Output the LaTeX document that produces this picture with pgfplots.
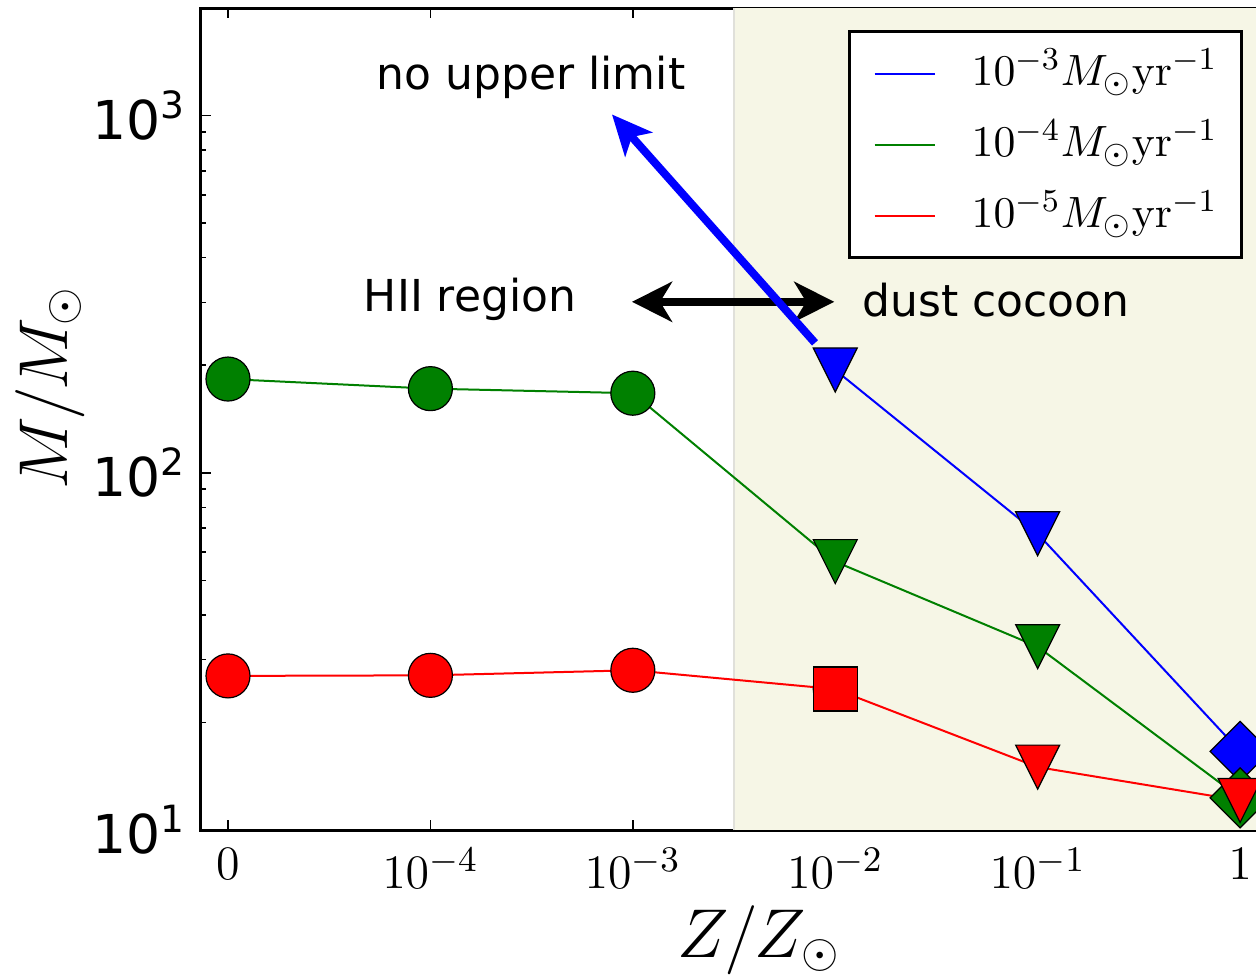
\documentclass[border=0pt]{standalone}
\usepackage[no-math]{fontspec}
\setmainfont{DejaVu Sans}
\usepackage{pgfplots}
\pgfplotsset{compat=1.18}
\usetikzlibrary{calc, arrows.meta}
\definecolor{mblue}{RGB}{0,0,255}
\definecolor{mgreen}{RGB}{0,128,0}
\definecolor{mred}{RGB}{255,0,0}
\definecolor{cocoon}{HTML}{F6F6E6}
\definecolor{cocoonedge}{HTML}{E0E0DA}

% matplotlib-like markers: 'v' and 'D'
\pgfdeclareplotmark{tridown}{%
  \pgfpathmoveto{\pgfqpoint{0pt}{-\pgfplotmarksize}}%
  \pgfpathlineto{\pgfqpoint{\pgfplotmarksize}{\pgfplotmarksize}}%
  \pgfpathlineto{\pgfqpoint{-\pgfplotmarksize}{\pgfplotmarksize}}%
  \pgfpathclose\pgfusepathqfillstroke}
\pgfdeclareplotmark{mdiamond}{%
  \pgfpathmoveto{\pgfqpoint{0pt}{\pgfplotmarksize}}%
  \pgfpathlineto{\pgfqpoint{\pgfplotmarksize}{0pt}}%
  \pgfpathlineto{\pgfqpoint{0pt}{-\pgfplotmarksize}}%
  \pgfpathlineto{\pgfqpoint{-\pgfplotmarksize}{0pt}}%
  \pgfpathclose\pgfusepathqfillstroke}

\begin{document}
\begin{tikzpicture}
\begin{axis}[
  name=ax,
  scale only axis, width=279pt, height=205.5pt,
  xmin=-0.1334, xmax=5.38,
  ymode=log, ymin=10, ymax=2000,
  axis line style={line width=0.75pt},
  major tick length=2.5pt, minor tick length=1.25pt,
  every tick/.style={black, line width=0.4pt},
  xtick={0,1,2,3,4,5},
  xticklabels={$0$,$10^{-4}$,$10^{-3}$,$10^{-2}$,$10^{-1}$,$1$},
  x tick label style={font=\fontsize{12.8}{14}\selectfont, yshift=-1pt},
  ytick={10,100,1000},
  yticklabels={10\textsuperscript{1},10\textsuperscript{2},10\textsuperscript{3}},
  minor ytick={20,30,40,50,60,70,80,90,200,300,400,500,600,700,800,900,2000},
  y tick label style={font=\fontsize{13.4}{15}\selectfont},
  xlabel={$Z/Z_{\odot}$},
  xlabel style={at={(axis description cs:0.5,-0.134)}, anchor=center, font=\fontsize{17.5}{20}\selectfont},
  ylabel={$M/M_{\odot}$},
  ylabel style={at={(axis description cs:-0.135,0.538)}, anchor=center, rotate=0, font=\fontsize{17.5}{20}\selectfont},
  legend style={at={(rel axis cs:0.9337,0.973)}, anchor=north east,
    draw=black, line width=0.75pt, fill=white,
    font=\fontsize{11}{13}\selectfont,
    inner xsep=6pt, inner ysep=4.5pt, row sep=5.75pt,
    nodes={inner sep=0pt, text height=9pt, text depth=3pt},
    /tikz/every odd column/.append style={column sep=9pt}},
  legend cell align=left,
  legend image code/.code={\draw[#1, line width=0.5pt] (0pt,0pt) -- (15pt,0pt);},
]
  % dust cocoon shading
  \fill[cocoon] (axis cs:2.5,10) rectangle (axis cs:6,2000);
  \draw[cocoonedge, line width=0.5pt] (axis cs:2.5,10) -- (axis cs:2.5,2000);

  \addlegendimage{mblue}
  \addlegendentry{$10^{-3}M_{\odot}\mathrm{yr}^{-1}$}
  \addlegendimage{mgreen}
  \addlegendentry{$10^{-4}M_{\odot}\mathrm{yr}^{-1}$}
  \addlegendimage{mred}
  \addlegendentry{$10^{-5}M_{\odot}\mathrm{yr}^{-1}$}

  % annotations
  \draw[black, line width=2pt, {Stealth[length=10pt,width=10pt,inset=3pt]}-{Stealth[length=10pt,width=10pt,inset=3pt]}]
    (axis cs:1.996,301) -- (axis cs:2.995,301);
  \node[font=\fontsize{11}{13}\selectfont] at (axis cs:1.497,1277) {no upper limit};
  \node[font=\fontsize{11}{13}\selectfont] at (axis cs:1.196,305) {HII region};
  \node[font=\fontsize{11}{13}\selectfont] at (axis cs:3.794,305) {dust cocoon};

  % 1e-5
  \addplot[mred, line width=0.5pt, mark=*, mark size=5.5pt, mark options={fill=mred, draw=black, line width=0.3pt}, forget plot]
    coordinates {(0,27.0) (1,27.1) (2,28.0) (3,24.8)};
  \addplot[mred, line width=0.5pt, forget plot]
    coordinates {(3,24.8) (4,15.0) (5,12.1)};
  \addplot[only marks, mark=square*, mark size=5.5pt, mark options={fill=mred, draw=black, line width=0.3pt}, forget plot]
    coordinates {(3,24.8)};
  % 1e-4
  \addplot[mgreen, line width=0.5pt, mark=*, mark size=5.5pt, mark options={fill=mgreen, draw=black, line width=0.3pt}, forget plot]
    coordinates {(0,183) (1,172) (2,167)};
  \addplot[mgreen, line width=0.5pt, forget plot]
    coordinates {(2,167) (3,56.4) (4,32.6) (5,12.3)};
  % 1e-3
  \addplot[mblue, line width=0.5pt, forget plot]
    coordinates {(3,194) (4,67.5) (5,16.6)};

  \draw[mblue, line width=2pt, -{Stealth[length=10pt,width=9pt,inset=2.5pt]}]
    (axis cs:2.90,231) -- (axis cs:1.897,1007);

  % triangles and diamonds drawn over the lines
  \addplot[only marks, mark=tridown, mark size=5.5pt, mark options={fill=mblue, draw=black, line width=0.3pt}, forget plot]
    coordinates {(3,194) (4,67.5)};
  \addplot[only marks, mark=tridown, mark size=5.5pt, mark options={fill=mgreen, draw=black, line width=0.3pt}, forget plot]
    coordinates {(3,56.4) (4,32.6)};
  \addplot[only marks, mark=tridown, mark size=5.5pt, mark options={fill=mred, draw=black, line width=0.3pt}, forget plot]
    coordinates {(4,15.0)};
  \addplot[only marks, mark=mdiamond, mark size=7.5pt, mark options={fill=mblue, draw=black, line width=0.3pt}, forget plot]
    coordinates {(5,16.6)};
  \addplot[only marks, mark=mdiamond, mark size=7.5pt, mark options={fill=mgreen, draw=black, line width=0.3pt}, forget plot]
    coordinates {(5,12.3)};
  \addplot[only marks, mark=tridown, mark size=5.5pt, mark options={fill=mred, draw=black, line width=0.3pt}, forget plot]
    coordinates {(5,12.1)};
\end{axis}
\pgfresetboundingbox
\path[use as bounding box] ($(ax.south west)+(-50.25pt,-36.75pt)$) rectangle ($(ax.south west)+(263.75pt,207.5pt)$);
\end{tikzpicture}
\end{document}
